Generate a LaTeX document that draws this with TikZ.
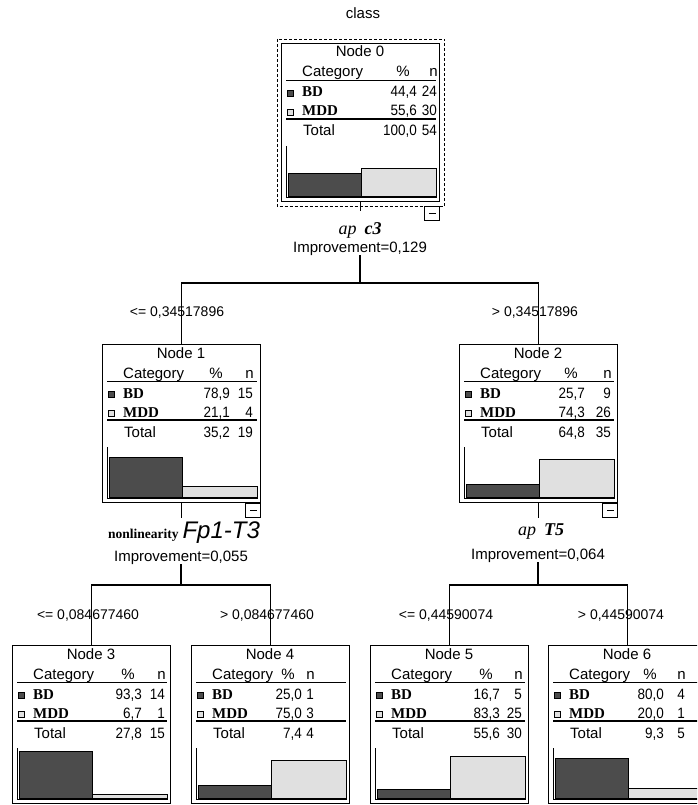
\documentclass[tikz,border=0pt]{standalone}
\usepackage{fontspec}
\setmainfont{Liberation Sans}
\newfontfamily\catfont{Liberation Serif}
\newfontfamily\numfont{Liberation Sans}[FakeStretch=0.9]

% bar and legend colours
\colorlet{bdfill}{black!70}
\colorlet{mddfill}{black!12}

\tikzset{
  nodebox/.style={draw, line width=1.4pt, minimum width=158pt, minimum height=158pt, inner sep=0pt, anchor=north west},
  lbl/.style={font=\fontsize{15}{17}\selectfont, inner sep=0pt, text height=11pt, text depth=3pt},
  cond/.style={lbl, font=\fontsize{14}{16}\selectfont},
  num/.style={lbl, anchor=east, font=\numfont\fontsize{15}{17}\selectfont},
  catlbl/.style={lbl, anchor=west, font=\catfont\bfseries\fontsize{15}{17}\selectfont},
  splitvar/.style={inner sep=0pt, font=\catfont\fontsize{18}{20}\selectfont},
  link/.style={line width=1.1pt},
  bdbar/.style={fill=bdfill, draw=black, line width=1pt},
  mddbar/.style={fill=mddfill, draw=black, line width=1pt},
  minusbox/.style={draw, line width=1pt, fill=white, minimum width=15pt, minimum height=14pt, inner sep=0pt, anchor=north east}
}

% frame, header and row labels of one tree node: name, left, top, number, % column, n column
\newcommand{\nodehead}[6]{%
  \def\curName{#1}\def\curL{#2}\def\curT{#3}\def\curP{#5}\def\curN{#6}%
  \node[nodebox] (#1) at (#2,#3) {};
  \node[lbl] (#1-title) at ({#2+79},{#3+10}) {Node #4};
  \node[lbl, anchor=west] (#1-cat) at ({#2+21},{#3+30}) {Category};
  \node[lbl] (#1-pcthead) at ({#2+#5-14},{#3+30}) {\%};
  \node[lbl, anchor=east] (#1-nhead) at ({#2+#6+1},{#3+30}) {n};
  \draw[line width=.5pt] ({#2+5},{#3+37}) -- ({#2+155},{#3+37});
  \draw[line width=1.2pt] ({#2+5},{#3+76}) -- ({#2+155},{#3+76});
  \fill[bdfill, draw=black, line width=.4pt] ({#2+6},{#3+47}) rectangle ++(6,6);
  \fill[mddfill, draw=black, line width=.4pt] ({#2+6},{#3+66}) rectangle ++(6,6);
  \node[catlbl] (#1-bd) at ({#2+21},{#3+50}) {BD};
  \node[catlbl] (#1-mdd) at ({#2+21},{#3+69}) {MDD};
  \node[lbl, anchor=west] (#1-tot) at ({#2+22},{#3+89}) {Total};
  % bar axis
  \draw[line width=.8pt] ({#2+5},{#3+103}) -- ({#2+5},{#3+154}) -- ({#2+156},{#3+154});
}

% values and bars: BD %, BD n, MDD %, MDD n, total %, total n, BD bar, MDD bar
\newcommand{\nodedata}[8]{%
  \node[num] (\curName-bdp) at ({\curL+\curP},{\curT+50}) {#1};
  \node[num] (\curName-bdn) at ({\curL+\curN},{\curT+50}) {#2};
  \node[num] (\curName-mddp) at ({\curL+\curP},{\curT+69}) {#3};
  \node[num] (\curName-mddn) at ({\curL+\curN},{\curT+69}) {#4};
  \node[num] (\curName-totp) at ({\curL+\curP},{\curT+89}) {#5};
  \node[num] (\curName-totn) at ({\curL+\curN},{\curT+89}) {#6};
  \draw[bdbar] ({\curL+7},{\curT+153}) rectangle ({\curL+80},{\curT+153-0.5*#7});
  \draw[mddbar] ({\curL+80},{\curT+153}) rectangle ({\curL+155},{\curT+153-0.5*#8});
}

\begin{document}
\begin{tikzpicture}[x=1pt, y=-1pt]
  % page
  \useasboundingbox (0,0) rectangle (697,805);
  \clip (0,0) rectangle (697,805);

  \node[lbl] (target) at (363,15) {class};

  % root
  \nodehead{n0}{281}{43}{0}{136}{156}
  \nodedata{44,4}{24}{55,6}{30}{100,0}{54}{44.4}{55.6}
  \draw[dashed, dash pattern=on 3pt off 2pt, line width=.9pt]
    ([shift={(-4pt,4pt)}]n0.north west) rectangle ([shift={(4pt,-4pt)}]n0.south east);
  \node[minusbox] (m0) at ([yshift=-4pt]n0.south east) {\rule{7pt}{1pt}};

  % level 1
  \nodehead{n1}{102}{344}{1}{128}{151}
  \nodedata{78,9}{15}{21,1}{4}{35,2}{19}{78.9}{21.1}
  \node[minusbox] (m1) at (n1.south east) {\rule{7pt}{1pt}};
  \nodehead{n2}{459}{344}{2}{126}{152}
  \nodedata{25,7}{9}{74,3}{26}{64,8}{35}{25.7}{74.3}
  \node[minusbox] (m2) at (n2.south east) {\rule{7pt}{1pt}};

  % level 2
  \nodehead{n3}{12}{645}{3}{130}{153}
  \nodedata{93,3}{14}{6,7}{1}{27,8}{15}{93.3}{6.7}
  \nodehead{n4}{191}{645}{4}{111}{123}
  \nodedata{25,0}{1}{75,0}{3}{7,4}{4}{25.0}{75.0}
  \nodehead{n5}{370}{645}{5}{130}{152}
  \nodedata{16,7}{5}{83,3}{25}{55,6}{30}{16.7}{83.3}
  \nodehead{n6}{548}{645}{6}{116}{137}
  \nodedata{80,0}{4}{20,0}{1}{9,3}{5}{80.0}{20.0}

  % split on root
  \node[splitvar] (v0) at (360,230) {\textit{ap}\hspace{8pt}\textbf{\textit{c3}}};
  \node[lbl] (i0) at (360,248) {Improvement=0,129};
  \coordinate (s0) at (360,283);
  \draw[link] (n0.south) -- ++(0,9);
  \draw[link] (i0.south) -- (s0);
  \draw[link] (n1.north) |- (s0) -| (n2.north);
  \node[cond] (c1) at (177,312) {<= 0,34517896};
  \node[cond] (c2) at (535,312) {> 0,34517896};

  % split on node 1
  \node[inner sep=0pt] (v1) at (184,533) {{\catfont\bfseries\fontsize{13.5}{15}\selectfont nonlinearity}\hspace{4pt}{\fontsize{24}{26}\selectfont\itshape Fp1-T3}};
  \node[lbl] (i1) at (181,557) {Improvement=0,055};
  \coordinate (s1) at (181,585);
  \draw[link] (n1.south) -- ++(0,15);
  \draw[link] (i1.south) -- (s1);
  \draw[link] (n3.north) |- (s1) -| (n4.north);
  \node[cond] (c3) at (88,615) {<= 0,084677460};
  \node[cond] (c4) at (267,615) {> 0,084677460};

  % split on node 2
  \node[splitvar] (v2) at (541,532) {\textit{ap}\hspace{8pt}\textbf{\textit{T5}}};
  \node[lbl] (i2) at (538,555) {Improvement=0,064};
  \coordinate (s2) at (538,585);
  \draw[link] (n2.south) -- ++(0,15);
  \draw[link] (i2.south) -- (s2);
  \draw[link] (n5.north) |- (s2) -| (n6.north);
  \node[cond] (c5) at (446,615) {<= 0,44590074};
  \node[cond] (c6) at (621,615) {> 0,44590074};
\end{tikzpicture}
\end{document}
